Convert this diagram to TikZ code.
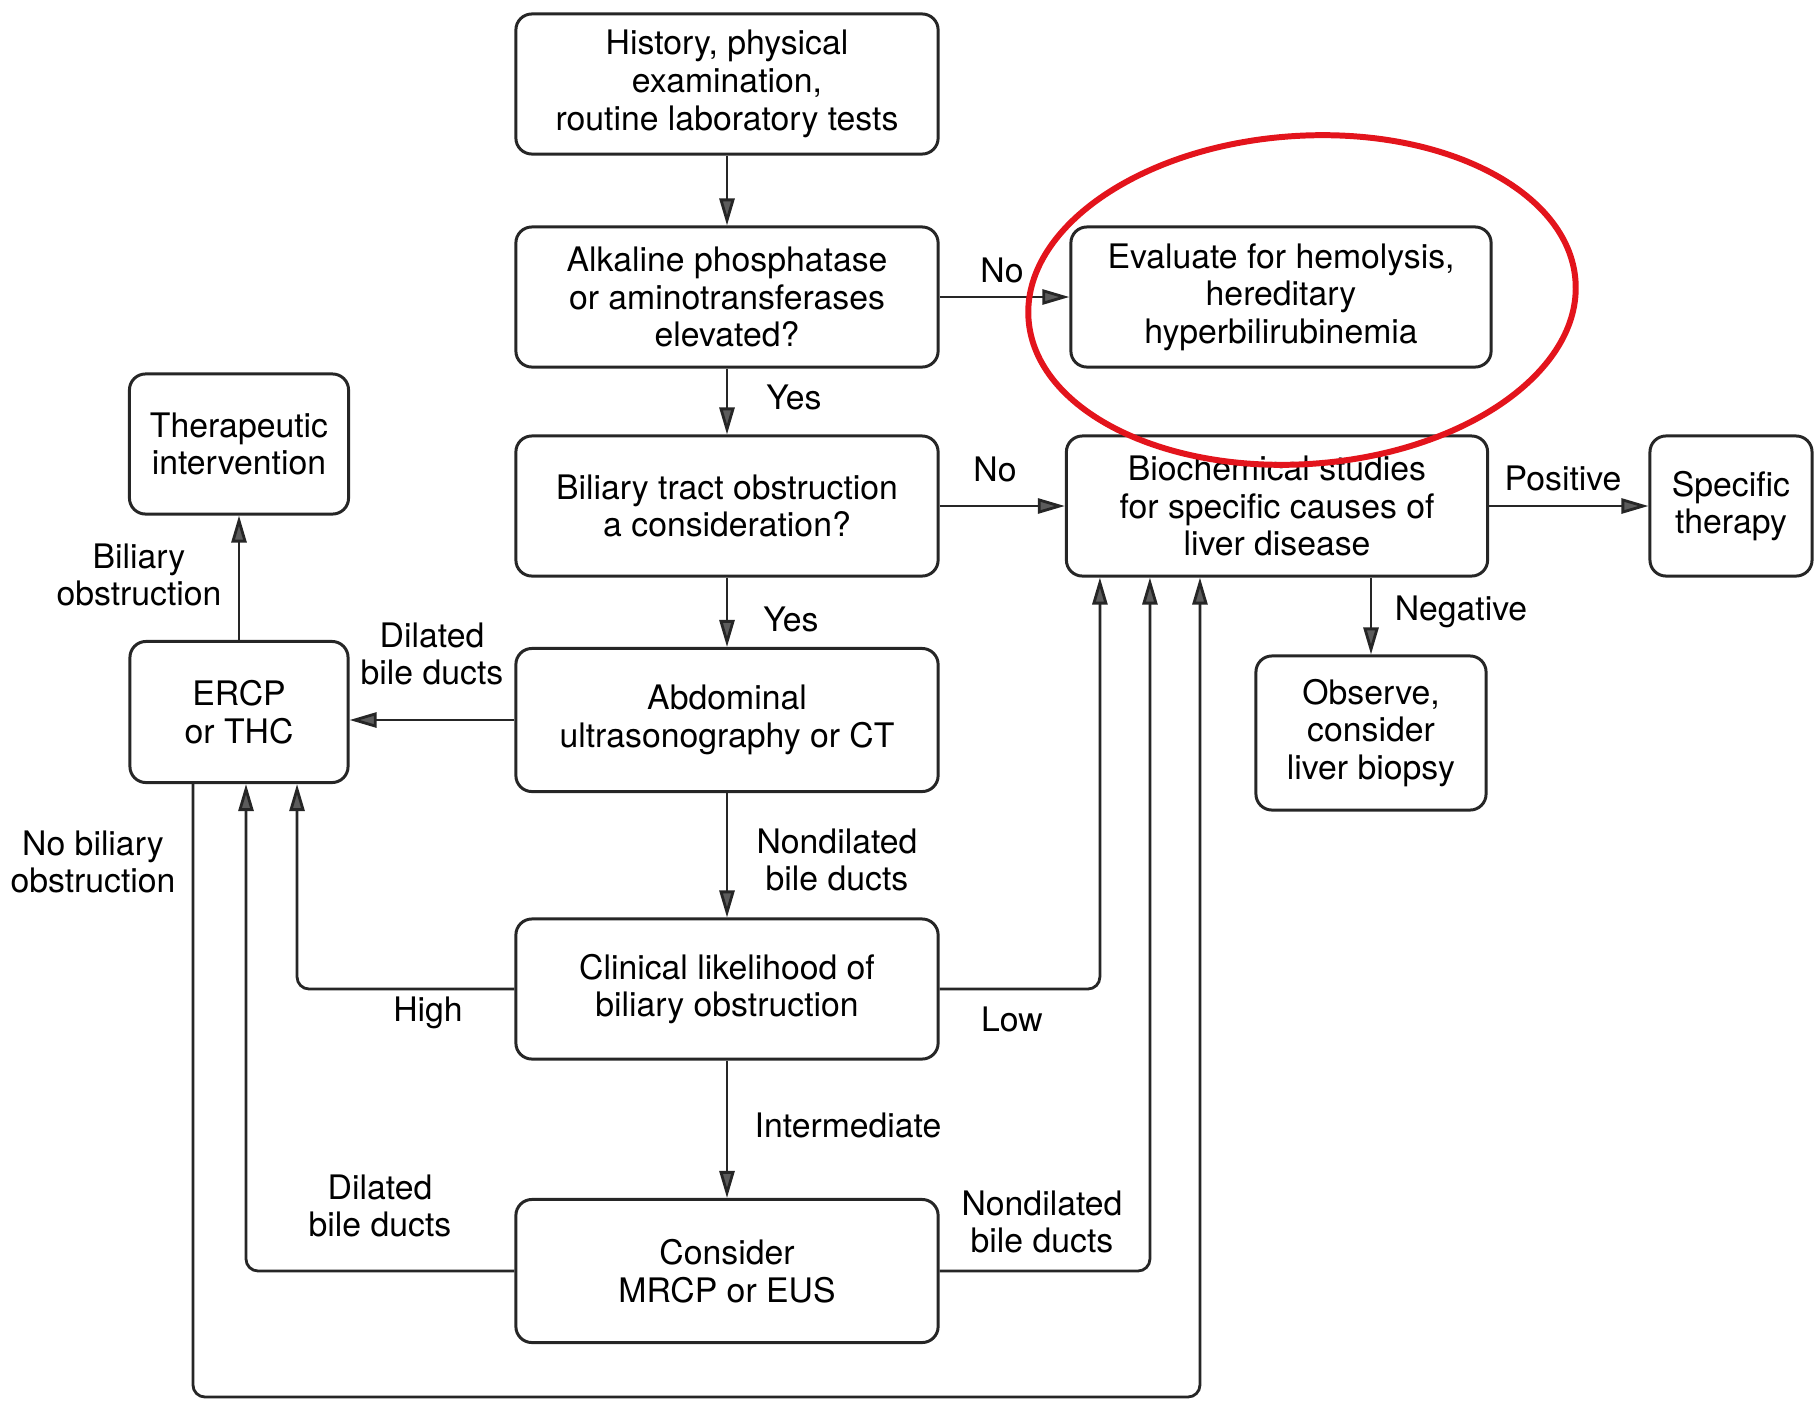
\documentclass[tikz,border=0pt]{standalone}
\usepackage{fontspec}
\setmainfont{TeX Gyre Heros}
\usepackage{xcolor}
\usepackage{tikz}
\usetikzlibrary{arrows.meta}
\definecolor{flowink}{HTML}{262626}
\definecolor{flowtip}{HTML}{5C5C5C}
\definecolor{ringred}{HTML}{E3141C}
\newcommand{\flowfont}{\fontsize{9.6}{10.7}\selectfont}
\tikzset{
  step box/.style={draw=flowink,rounded corners=0.16cm,line width=0.85pt,
    minimum width=4.22cm,minimum height=1.4cm,align=center,font=\flowfont,
    inner sep=1pt},
  narrow box/.style={step box,minimum width=2.19cm},
  flow/.style={draw=flowink,line width=0.8pt,rounded corners=0.12cm,
    -{Triangle[length=2.7mm,width=1.5mm,fill=flowtip]}},
  tag/.style={align=center,font=\flowfont,inner sep=0pt},
  ring/.style={draw=ringred,line width=1.7pt}
}

\begin{document}
\begin{tikzpicture}[x=0.01cm,y=-0.01cm]
  \useasboundingbox (0,0) rectangle (1815,1406);

  % main column
  \node[step box] (hist) at (727,84) {History, physical\\examination,\\routine laboratory tests};
  \node[step box] (alk) at (727,297) {Alkaline phosphatase\\or aminotransferases\\elevated?};
  \node[step box] (bil) at (727,506) {Biliary tract obstruction\\a consideration?};
  \node[step box,minimum height=1.43cm] (abd) at (727,720) {Abdominal\\ultrasonography or CT};
  \node[step box] (clin) at (727,989) {Clinical likelihood of\\biliary obstruction};
  \node[step box,minimum height=1.43cm] (cons) at (727,1271) {Consider\\MRCP or EUS};

  % right side
  \node[step box,minimum width=4.2cm] (eval) at (1281,297) {Evaluate for hemolysis,\\hereditary\\hyperbilirubinemia};
  \node[step box,minimum width=4.21cm] (bio) at (1277,506) {Biochemical studies\\for specific causes of\\liver disease};
  \node[narrow box,minimum width=1.62cm] (spec) at (1731,506) {Specific\\therapy};
  \node[narrow box,minimum width=2.3cm,minimum height=1.54cm] (obs) at (1371,733) {Observe,\\consider\\liver biopsy};

  % left side
  \node[narrow box] (ther) at (239,444) {Therapeutic\\intervention};
  \node[narrow box,minimum width=2.18cm,minimum height=1.41cm] (ercp) at (239,712) {ERCP\\or THC};

  % straight connectors
  \draw[flow] (hist) -- (alk);
  \draw[flow] (alk) -- (bil);
  \draw[flow] (bil) -- (abd);
  \draw[flow] (abd) -- (clin);
  \draw[flow] (clin) -- (cons);
  \draw[flow] (alk.east) -- (alk.east -| eval.west);
  \draw[flow] (bil.east) -- (bil.east -| bio.west);
  \draw[flow] (bio.east) -- (bio.east -| spec.west);
  \draw[flow] (bio.south -| obs.north) -- (obs.north);
  \draw[flow] (abd.west) -- (abd.west -| ercp.east);
  \draw[flow] (ercp) -- (ther);

  % routed connectors
  \coordinate (bot) at (0,1397);
  \coordinate (ercpout) at ([xshift=-0.46cm]ercp.south);
  \coordinate (bioin) at ([xshift=-0.77cm]bio.south);
  \draw[flow] (clin.west) -| ([xshift=0.58cm]ercp.south);
  \draw[flow] (cons.west) -| ([xshift=0.07cm]ercp.south);
  \draw[flow] (clin.east) -| ([xshift=-1.77cm]bio.south);
  \draw[flow] (cons.east) -| ([xshift=-1.27cm]bio.south);
  \draw[flow] (ercpout) -- (ercpout |- bot) -| (bioin);

  % labels
  \node[tag] (no1) at (1002,270) {No};
  \node[tag] (yes1) at (794,397) {Yes};
  \node[tag] (no2) at (995,469) {No};
  \node[tag] (yes2) at (791,619) {Yes};
  \node[tag] (pos) at (1563,478) {Positive};
  \node[tag] (neg) at (1461,612) {Negative};
  \node[tag] (dil1) at (432,654) {Dilated\\bile ducts};
  \node[tag] (biob) at (139,575) {Biliary\\obstruction};
  \node[tag] (nond1) at (837,860) {Nondilated\\bile ducts};
  \node[tag] (inter) at (848,1125) {Intermediate};
  \node[tag] (high) at (428,1013) {High};
  \node[tag] (low) at (1012,1019) {Low};
  \node[tag] (dil2) at (380,1206) {Dilated\\bile ducts};
  \node[tag] (nond2) at (1042,1222) {Nondilated\\bile ducts};
  \node[tag] (nobil) at (93,862) {No biliary\\obstruction};

  % red ring round the hemolysis box
  \draw[ring,rotate around={4:(1302,300)}] (1302,300) ellipse [x radius=2.74cm,y radius=1.64cm];
\end{tikzpicture}
\end{document}
